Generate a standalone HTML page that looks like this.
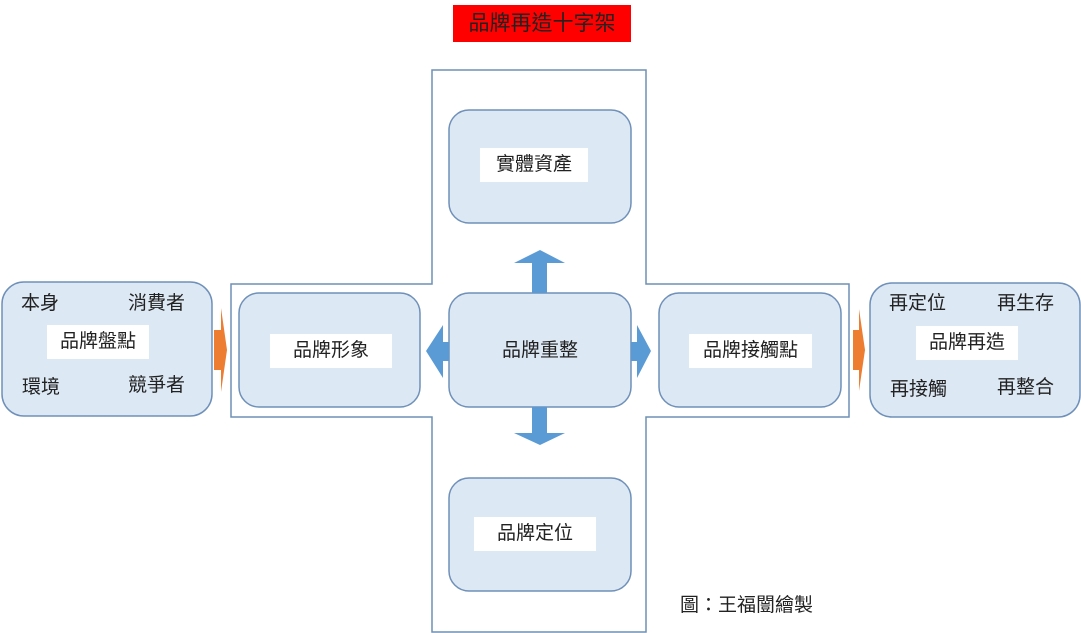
<!DOCTYPE html>
<html><head><meta charset="utf-8"><style>
body{margin:0;width:1081px;height:633px;background:#fff;overflow:hidden;position:relative;font-family:"Liberation Sans","Noto Sans CJK TC",sans-serif;}
.t{position:absolute;font-size:19px;color:#222;line-height:24px;white-space:nowrap}
.w{position:absolute;background:#fff;font-size:19px;color:#222;text-align:center;line-height:34px}
</style></head><body>
<svg width="1081" height="633" style="position:absolute;left:0;top:0">
<polygon points="432,70 646,70 646,284 849,284 849,417 646,417 646,632 432,632 432,417 231,417 231,284 432,284" fill="#fff" stroke="#6f8fb3" stroke-width="1.5"/>
<g fill="#dde8f5" stroke="#6f90b8" stroke-width="1.5">
<rect x="2" y="282" width="210" height="134" rx="22"/>
<rect x="239" y="293" width="181" height="114" rx="20"/>
<rect x="449" y="293" width="182" height="114" rx="20"/>
<rect x="659" y="293" width="182" height="114" rx="20"/>
<rect x="449" y="110" width="182" height="113" rx="20"/>
<rect x="449" y="478" width="182" height="113" rx="20"/>
<rect x="870" y="283" width="210" height="134" rx="22"/>
</g>
<g fill="#5b9bd5">
<polygon points="532,293 547,293 547,263 565,263 540,250 514,263 532,263"/>
<polygon points="532,407 547,407 547,433 565,433 540,445 514,433 532,433"/>
<polygon points="449,342 443,342 443,325 426,351 443,378 443,361 449,361"/>
<polygon points="631,342 637,342 637,325 651,351 637,378 637,361 631,361"/>
</g>
<g fill="#ed7d31">
<polygon points="214,330 221,330 221,308 227,350 221,392 221,370 214,370"/>
<polygon points="853,330 859,330 859,309 865,350 859,391 859,370 853,370"/>
</g>
</svg>
<div class="w" style="left:453px;top:5px;width:178px;height:37px;background:#ff0000;font-size:21px;line-height:37px;color:#222">品牌再造十字架</div>
<div class="t" style="left:21px;top:292px">本身</div>
<div class="t" style="left:128px;top:292px">消費者</div>
<div class="w" style="left:47px;top:325px;width:102px">品牌盤點</div>
<div class="t" style="left:22px;top:376px">環境</div>
<div class="t" style="left:128px;top:374px">競爭者</div>
<div class="w" style="left:270px;top:334px;width:122px">品牌形象</div>
<div class="w" style="left:485px;top:334px;width:110px;background:transparent">品牌重整</div>
<div class="w" style="left:689px;top:334px;width:123px">品牌接觸點</div>
<div class="w" style="left:480px;top:148px;width:108px">實體資產</div>
<div class="w" style="left:474px;top:517px;width:122px">品牌定位</div>
<div class="t" style="left:889px;top:292px">再定位</div>
<div class="t" style="left:997px;top:292px">再生存</div>
<div class="w" style="left:916px;top:326px;width:102px">品牌再造</div>
<div class="t" style="left:890px;top:378px">再接觸</div>
<div class="t" style="left:997px;top:376px">再整合</div>
<div class="t" style="left:680px;top:594px">圖：王福闓繪製</div>
</body></html>
